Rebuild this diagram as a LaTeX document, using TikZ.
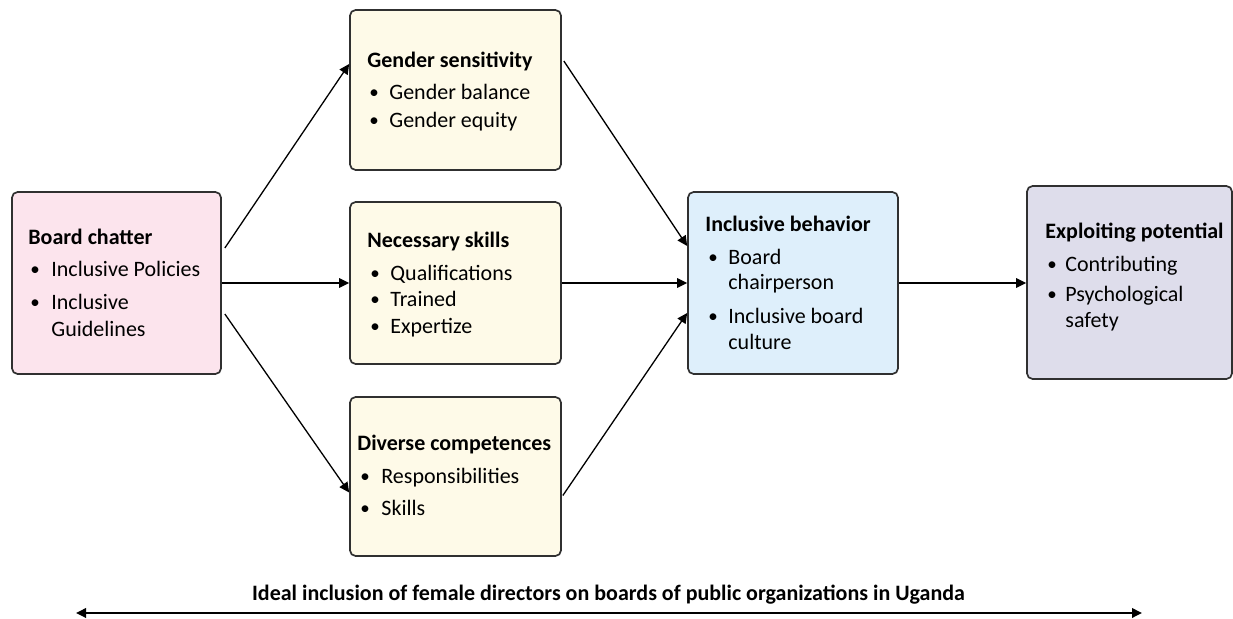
\documentclass[tikz,border=0pt]{standalone}
\usepackage{fontspec}
\setmainfont{Carlito}
\usetikzlibrary{fit,arrows.meta}

\definecolor{pinkfill}{RGB}{252,228,237}
\definecolor{yellowfill}{RGB}{254,250,232}
\definecolor{bluefill}{RGB}{222,239,251}
\definecolor{greyfill}{RGB}{222,221,235}
\definecolor{edge}{RGB}{48,48,48}

\newcommand{\dotmark}{\raisebox{0.5pt}{\fontsize{9.5}{11}\selectfont •}}

\tikzset{
  panel/.style={draw=edge, line width=0.85pt, rounded corners=2.8pt, inner sep=0pt},
  head/.style={anchor=base west, inner sep=0pt, font=\fontsize{11}{13.4}\selectfont\bfseries},
  item/.style={anchor=base west, inner sep=0pt, font=\fontsize{11}{13.4}\selectfont},
  conn/.style={line width=0.65pt, -{Triangle[length=5pt,width=4.8pt]}},
  span/.style={line width=0.75pt, {Triangle[length=5pt,width=4.8pt]}-{Triangle[length=5pt,width=4.8pt]}}
}

\begin{document}
\begin{tikzpicture}[x=0.5pt,y=-0.5pt]
\useasboundingbox (0,0) rectangle (1233,619);

% boxes
\node[panel, fill=pinkfill,   fit={(12,192) (221,374)}]   (bc) {};
\node[panel, fill=yellowfill, fit={(350,10) (561,170)}]   (gs) {};
\node[panel, fill=yellowfill, fit={(350,202) (561,364)}]  (ns) {};
\node[panel, fill=yellowfill, fit={(350,397) (561,556)}]  (dc) {};
\node[panel, fill=bluefill,   fit={(688,192) (898,374)}]  (ib) {};
\node[panel, fill=greyfill,   fit={(1027,186) (1232,379)}] (ep) {};

% Board chatter
\node[head] (bc-h)  at (28,245)  {Board chatter};
\node[item] (bc-b1) at (30,277)  {\dotmark};
\node[item] (bc-1)  at (51,277)  {Inclusive Policies};
\node[item] (bc-b2) at (30,310)  {\dotmark};
\node[item] (bc-2)  at (51,310)  {Inclusive};
\node[item] (bc-2b) at (51,337)  {Guidelines};

% Gender sensitivity
\node[head] (gs-h)  at (367,68)  {Gender sensitivity};
\node[item] (gs-b1) at (369,100) {\dotmark};
\node[item] (gs-1)  at (389,100) {Gender balance};
\node[item] (gs-b2) at (369,128) {\dotmark};
\node[item] (gs-2)  at (389,128) {Gender equity};

% Necessary skills
\node[head] (ns-h)  at (367,248) {Necessary skills};
\node[item] (ns-b1) at (370,281) {\dotmark};
\node[item] (ns-1)  at (390,281) {Qualifications};
\node[item] (ns-b2) at (370,307) {\dotmark};
\node[item] (ns-2)  at (390,307) {Trained};
\node[item] (ns-b3) at (370,334) {\dotmark};
\node[item] (ns-3)  at (390,334) {Expertize};

% Diverse competences
\node[head] (dc-h)  at (357,451) {Diverse competences};
\node[item] (dc-b1) at (360,484) {\dotmark};
\node[item] (dc-1)  at (381,484) {Responsibilities};
\node[item] (dc-b2) at (360,516) {\dotmark};
\node[item] (dc-2)  at (381,516) {Skills};

% Inclusive behavior
\node[head] (ib-h)  at (705,232) {Inclusive behavior};
\node[item] (ib-b1) at (708,265) {\dotmark};
\node[item] (ib-1)  at (728,265) {Board};
\node[item] (ib-1b) at (728,290) {chairperson};
\node[item] (ib-b2) at (708,324) {\dotmark};
\node[item] (ib-2)  at (728,324) {Inclusive board};
\node[item] (ib-2b) at (728,350) {culture};

% Exploiting potential
\node[head] (ep-h)  at (1045,239) {Exploiting potential};
\node[item] (ep-b1) at (1047,272) {\dotmark};
\node[item] (ep-1)  at (1065,272) {Contributing};
\node[item] (ep-b2) at (1047,302) {\dotmark};
\node[item] (ep-2)  at (1065,302) {Psychological};
\node[item] (ep-2b) at (1065,328) {safety};

% connectors
\draw[conn] ([shift={(3,-35)}]bc.east) -- ([shift={(0,-26)}]gs.west);
\draw[conn] (bc.east) -- (bc.east -| ns.west);
\draw[conn] ([shift={(3,31)}]bc.east) -- ([shift={(0,16)}]dc.west);
\draw[conn] ([shift={(2,-29)}]gs.east) -- ([shift={(0,-37)}]ib.west);
\draw[conn] (ns.east |- ib.west) -- (ib.west);
\draw[conn] ([shift={(1,19)}]dc.east) -- ([shift={(0,30)}]ib.west);
\draw[conn] (ib.east) -- (ib.east -| ep.west);

% span arrow with caption
\coordinate (sl) at (76,613);
\coordinate (sr) at (1142,613);
\draw[span] (sl) -- (sr);
\node[head, anchor=base] (cap) at (608.5,601) {Ideal inclusion of female directors on boards of public organizations in Uganda};
\end{tikzpicture}
\end{document}
